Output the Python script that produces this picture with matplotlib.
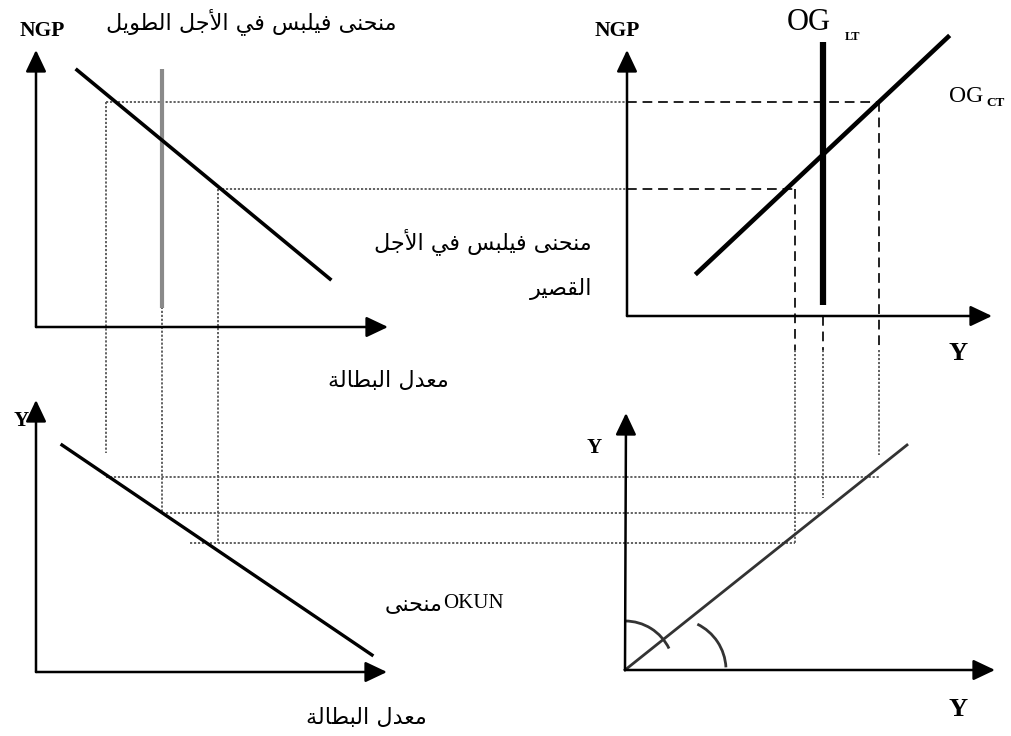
import unicodedata
import matplotlib
matplotlib.use("Agg")
import matplotlib.pyplot as plt
from matplotlib.patches import Arc

# ---------------- Arabic shaping helper (matplotlib has no shaping) ----------
FORMS, LIGS = {}, {}
for cp in range(0xFE70, 0xFF00):
    ch = chr(cp)
    d = unicodedata.decomposition(ch)
    if not d:
        continue
    parts = d.split()
    tag = parts[0]
    if tag not in ("<isolated>", "<final>", "<initial>", "<medial>"):
        continue
    base = "".join(chr(int(p, 16)) for p in parts[1:])
    (FORMS if len(base) == 1 else LIGS).setdefault(base, {})[tag] = ch


def _dual(c):
    return c in FORMS and "<initial>" in FORMS[c]


def shape(text):
    out, i, n = [], 0, len(text)
    while i < n:
        c = text[i]
        if c not in FORMS:
            out.append(c)
            i += 1
            continue
        prev = text[i - 1] if i > 0 else None
        jp = prev is not None and _dual(prev)
        if i + 1 < n and (c + text[i + 1]) in LIGS:
            f = LIGS[c + text[i + 1]]
            out.append(f["<final>"] if jp else f["<isolated>"])
            i += 2
            continue
        nxt = text[i + 1] if i + 1 < n else None
        jn = _dual(c) and nxt is not None and nxt in FORMS
        f = FORMS[c]
        if jp and jn:
            g = f.get("<medial>")
        elif jp:
            g = f.get("<final>")
        elif jn:
            g = f.get("<initial>")
        else:
            g = None
        out.append(g or f.get("<isolated>", c))
        i += 1
    return "".join(out)[::-1]


# ---------------- data (sketch coordinates) ---------------------------------
# axes: origin, y-arrow tip, x-arrow tip
axes_origin = [(36, 327), (627, 316), (36, 672), (625, 670)]
axes_ytip = [(36, 50), (627, 50), (36, 400), (626, 413)]
axes_xtip = [(388, 327), (992, 316), (387, 672), (995, 670)]

# curves
phillips_sr_x, phillips_sr_y = [77, 330], [70, 279]
phillips_lr_x, phillips_lr_y = [162, 162], [69, 308]
og_ct_x, og_ct_y = [697, 948], [273, 37]
og_lt_x, og_lt_y = [823, 823], [42, 305]
okun_x, okun_y = [62, 372], [445, 655]
bisector_x, bisector_y = [625, 907], [670, 445]

# projection levels
ngp_levels = [102, 189]           # inflation levels
ngp_left_start = [106, 218]
ngp_right_end = [879, 794]
u_levels = [106, 162, 218]        # unemployment levels (x)
u_top = [102, 140, 189]
u_bottom = [453, 513, 543]
y_levels = [477, 513, 543]        # output levels in lower panels
y_left_start = [106, 162, 190]
y_right_end = [879, 822, 795]
yx_levels = [795, 823, 879]       # output levels in top-right (x)
yx_top = [189, 316, 102]
yx_bottom = [543, 498, 455]

title_lr = "منحنى فيلبس في الأجل الطويل"
label_sr1 = "منحنى فيلبس في الأجل"
label_sr2 = "القصير"
label_u = "معدل البطالة"
label_okun = "منحنى"

# ---------------- figure ------------------------------------------------------
fig = plt.figure(figsize=(10.11, 7.36), dpi=100)
ax = fig.add_axes([0, 0, 1, 1])
ax.set_xlim(0, 1011)
ax.set_ylim(736, 0)
ax.axis("off")

DOT = dict(color="#555555", lw=1.3, ls=(0, (1.2, 1.0)))
DASH = dict(color="#222222", lw=1.4, ls=(0, (5, 3)))

# projection lines
for lvl, x0, x1 in zip(ngp_levels, ngp_left_start, ngp_right_end):
    ax.plot([x0, axes_origin[1][0]], [lvl, lvl], **DOT)
    ax.plot([axes_origin[1][0], x1], [lvl, lvl], **DASH)
for x, y0, y1 in zip(u_levels, u_top, u_bottom):
    ax.plot([x, x], [y0, y1], **DOT)
for lvl, x0, x1 in zip(y_levels, y_left_start, y_right_end):
    ax.plot([x0, x1], [lvl, lvl], **DOT)
for x, y0, y1 in zip(yx_levels, yx_top, yx_bottom):
    if y0 < 350:
        ax.plot([x, x], [y0, 350], **DASH)
        ax.plot([x, x], [350, y1], **DOT)
    else:
        ax.plot([x, x], [y0, y1], **DOT)

# axes with arrows
for o, yt, xt in zip(axes_origin, axes_ytip, axes_xtip):
    for tip in (yt, xt):
        ax.annotate("", xy=tip, xytext=o,
                    arrowprops=dict(arrowstyle="-|>,head_length=0.95,head_width=0.45",
                                    mutation_scale=14, lw=1.8, color="black",
                                    shrinkA=0, shrinkB=0))

# curves
ax.plot(phillips_lr_x, phillips_lr_y, color="#8a8a8a", lw=3.0, solid_capstyle="butt")
ax.plot(phillips_sr_x, phillips_sr_y, color="black", lw=2.6)
ax.plot(og_lt_x, og_lt_y, color="black", lw=4.5, solid_capstyle="butt")
ax.plot(og_ct_x, og_ct_y, color="black", lw=3.3)
ax.plot(okun_x, okun_y, color="black", lw=2.4)
ax.plot(bisector_x, bisector_y, color="#333333", lw=2.0)

# angle arcs
ax.add_patch(Arc((625, 670), 98, 98, theta1=-90, theta2=-26, color="#333333", lw=2.0))
ax.add_patch(Arc((675, 670), 102, 102, theta1=-64, theta2=-3, color="#333333", lw=2.0))

# texts
SERIF = "Liberation Serif"
AR = "DejaVu Sans"
ax.text(42, 31, "NGP", family=SERIF, weight="bold", fontsize=15.5, ha="center", va="center")
ax.text(617, 31, "NGP", family=SERIF, weight="bold", fontsize=15.5, ha="center", va="center")
ax.text(809, 23, "OG", family=SERIF, fontsize=22, ha="center", va="center")
ax.text(853, 37, "LT", family=SERIF, weight="bold", fontsize=9, ha="center", va="center")
ax.text(966, 97, "OG", family=SERIF, fontsize=17, ha="center", va="center")
ax.text(996, 103, "CT", family=SERIF, weight="bold", fontsize=9.5, ha="center", va="center")
ax.text(958, 353, "Y", family=SERIF, weight="bold", fontsize=19, ha="center", va="center")
ax.text(958, 710, "Y", family=SERIF, weight="bold", fontsize=19, ha="center", va="center")
ax.text(21, 421, "Y", family=SERIF, weight="bold", fontsize=15, ha="center", va="center")
ax.text(594, 448, "Y", family=SERIF, weight="bold", fontsize=15, ha="center", va="center")

ax.text(251, 22, shape(title_lr), family=AR, fontsize=16, ha="center", va="center")
ax.text(592, 242, shape(label_sr1), family=AR, fontsize=16, ha="right", va="center")
ax.text(592, 289, shape(label_sr2), family=AR, fontsize=16, ha="right", va="center")
ax.text(388, 381, shape(label_u), family=AR, fontsize=16, ha="center", va="center")
ax.text(366, 718, shape(label_u), family=AR, fontsize=16, ha="center", va="center")
ax.text(443, 605, shape(label_okun), family=AR, fontsize=16, ha="right", va="center")
ax.text(443, 604, "OKUN", family=SERIF, fontsize=15, ha="left", va="center")

fig.savefig("out.png", dpi=100)
